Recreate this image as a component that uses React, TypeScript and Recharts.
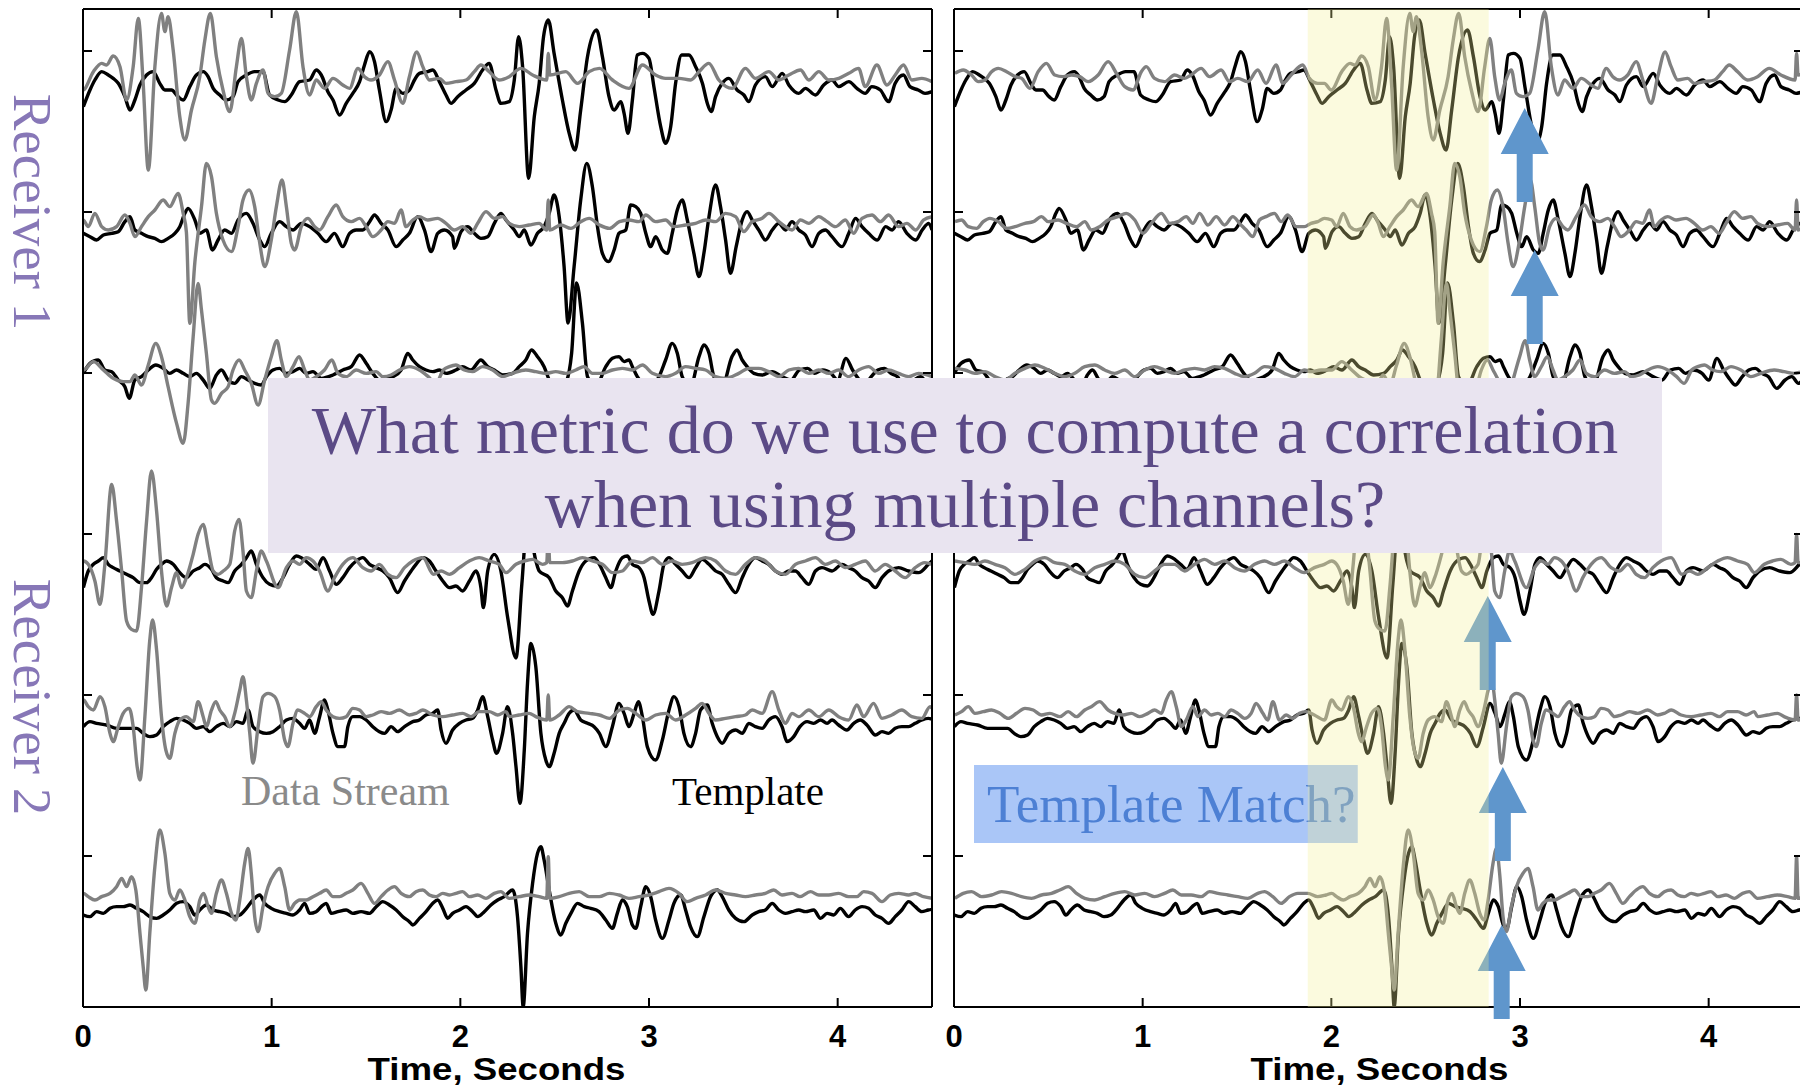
import React from "react";
import { LineChart, Line, XAxis, YAxis, ReferenceArea, ReferenceDot } from "recharts";

type Pair = [number, number];

// Template waveforms, [time s, amplitude counts], receiver 1 (ch 1-3) and receiver 2 (ch 4-6)
const template1: Pair[] = [[0.002,-167],[0.037,-117],[0.063,-87],[0.099,-62],[0.134,-72],[0.16,-82],[0.187,-97],[0.222,-137],[0.249,-177],[0.275,-147],[0.302,-102],[0.337,-72],[0.372,-62],[0.407,-97],[0.434,-117],[0.469,-117],[0.504,-137],[0.531,-147],[0.566,-107],[0.601,-72],[0.637,-62],[0.663,-77],[0.69,-112],[0.725,-132],[0.76,-147],[0.795,-137],[0.822,-92],[0.866,-72],[0.91,-62],[0.954,-62],[0.989,-132],[1.034,-147],[1.069,-152],[1.104,-132],[1.148,-92],[1.201,-87],[1.236,-57],[1.263,-72],[1.298,-122],[1.325,-147],[1.36,-192],[1.395,-157],[1.43,-127],[1.466,-92],[1.492,-42],[1.519,-2],[1.545,-32],[1.571,-117],[1.607,-212],[1.633,-177],[1.66,-112],[1.695,-127],[1.73,-117],[1.757,-87],[1.783,-67],[1.827,-62],[1.854,-57],[1.889,-92],[1.924,-132],[1.951,-157],[1.986,-137],[2.03,-117],[2.074,-97],[2.118,-57],[2.153,-37],[2.189,-117],[2.215,-157],[2.259,-152],[2.286,-87],[2.309,43],[2.33,-47],[2.362,-382],[2.392,-197],[2.418,-97],[2.441,43],[2.466,93],[2.497,-7],[2.541,-147],[2.577,-247],[2.608,-297],[2.638,-177],[2.674,-17],[2.722,63],[2.753,-17],[2.788,-137],[2.815,-177],[2.851,-152],[2.868,-187],[2.889,-247],[2.912,-147],[2.938,-12],[2.965,-7],[3.0,-22],[3.026,-107],[3.062,-227],[3.088,-277],[3.115,-227],[3.141,-97],[3.173,-12],[3.212,-12],[3.247,-47],[3.283,-97],[3.309,-157],[3.33,-182],[3.353,-137],[3.388,-97],[3.423,-82],[3.467,-117],[3.503,-132],[3.529,-152],[3.564,-102],[3.617,-77],[3.653,-107],[3.706,-67],[3.741,-102],[3.794,-127],[3.829,-112],[3.882,-132],[3.926,-102],[3.97,-87],[4.006,-107],[4.059,-92],[4.102,-112],[4.146,-127],[4.181,-107],[4.226,-117],[4.27,-152],[4.305,-97],[4.349,-72],[4.383,-107],[4.427,-117],[4.463,-127],[4.5,-122]];

const template2: Pair[] = [[0.002,-64],[0.037,-74],[0.072,-84],[0.108,-69],[0.152,-64],[0.187,-59],[0.222,-29],[0.249,-14],[0.275,-54],[0.31,-64],[0.346,-74],[0.381,-79],[0.416,-89],[0.451,-79],[0.487,-64],[0.513,-44],[0.54,-4],[0.557,11],[0.593,-24],[0.619,-64],[0.654,-54],[0.686,-114],[0.716,-84],[0.751,-54],[0.787,-64],[0.822,-24],[0.866,-4],[0.901,-34],[0.937,-84],[0.963,-104],[0.998,-64],[1.042,-29],[1.078,-44],[1.113,-54],[1.157,-34],[1.201,-44],[1.245,-64],[1.289,-89],[1.333,-64],[1.377,-104],[1.413,-64],[1.448,-54],[1.483,-54],[1.519,-29],[1.545,-9],[1.58,-34],[1.616,-54],[1.66,-104],[1.695,-84],[1.73,-64],[1.774,-14],[1.81,-54],[1.845,-119],[1.88,-64],[1.915,-54],[1.959,-74],[1.968,-109],[2.004,-59],[2.039,-44],[2.074,-64],[2.109,-79],[2.145,-74],[2.18,-34],[2.215,-4],[2.242,-24],[2.286,-54],[2.312,-74],[2.339,-54],[2.374,-99],[2.409,-64],[2.444,-44],[2.471,-4],[2.497,51],[2.524,-14],[2.55,-164],[2.571,-333],[2.603,-164],[2.638,36],[2.67,146],[2.7,76],[2.727,-44],[2.753,-124],[2.785,-149],[2.815,-114],[2.841,-64],[2.877,-54],[2.903,21],[2.93,16],[2.956,-4],[2.983,-64],[3.009,-104],[3.035,-74],[3.071,-114],[3.097,-124],[3.123,-64],[3.15,6],[3.176,36],[3.203,-24],[3.238,-124],[3.265,-194],[3.291,-124],[3.318,-14],[3.353,81],[3.379,16],[3.406,-84],[3.432,-184],[3.462,-104],[3.494,-24],[3.52,1],[3.547,-24],[3.582,-54],[3.617,-84],[3.653,-54],[3.688,-34],[3.723,-54],[3.758,-29],[3.794,-54],[3.829,-69],[3.864,-104],[3.9,-64],[3.935,-54],[3.97,-74],[4.023,-104],[4.059,-64],[4.095,-19],[4.129,-44],[4.164,-64],[4.21,-84],[4.254,-44],[4.289,-54],[4.323,-29],[4.367,-64],[4.414,-84],[4.448,-54],[4.483,-34],[4.5,-54]];

const template3: Pair[] = [[0.002,-1],[0.037,29],[0.081,39],[0.116,9],[0.152,4],[0.187,-21],[0.222,-41],[0.245,-76],[0.275,-21],[0.31,-11],[0.346,9],[0.386,24],[0.425,14],[0.46,-1],[0.496,9],[0.531,-1],[0.566,-11],[0.601,-1],[0.637,-21],[0.672,-46],[0.707,-6],[0.734,9],[0.769,-21],[0.804,-31],[0.84,-11],[0.875,-21],[0.91,-31],[0.945,-36],[0.972,-11],[1.007,9],[1.042,14],[1.078,-1],[1.113,4],[1.148,14],[1.183,-1],[1.219,4],[1.263,-16],[1.325,-6],[1.377,9],[1.422,19],[1.466,54],[1.501,29],[1.536,-1],[1.571,-21],[1.642,-11],[1.686,9],[1.721,59],[1.748,39],[1.783,19],[1.818,9],[1.854,4],[1.889,9],[1.924,-1],[1.977,9],[2.012,19],[2.056,9],[2.109,39],[2.145,19],[2.18,9],[2.224,-6],[2.277,-1],[2.312,19],[2.347,39],[2.377,69],[2.409,49],[2.444,19],[2.471,-21],[2.515,-60],[2.56,-30],[2.59,60],[2.616,270],[2.647,150],[2.674,-11],[2.718,-40],[2.771,19],[2.806,44],[2.841,49],[2.868,34],[2.894,39],[2.912,19],[2.938,-11],[3.0,-40],[3.053,-11],[3.088,39],[3.123,89],[3.15,59],[3.176,-11],[3.22,-40],[3.265,49],[3.291,84],[3.318,59],[3.344,-11],[3.388,-40],[3.44,49],[3.467,69],[3.494,39],[3.52,19],[3.556,-1],[3.6,-6],[3.653,4],[3.705,-11],[3.753,-21],[3.797,9],[3.841,14],[3.877,-1],[3.921,9],[3.965,-1],[4.0,-21],[4.044,44],[4.079,9],[4.115,-21],[4.141,-36],[4.178,-11],[4.213,9],[4.247,14],[4.282,-1],[4.317,-11],[4.361,-46],[4.405,-21],[4.441,-11],[4.476,-31],[4.5,-20]];

const template4: Pair[] = [[0.002,-161],[0.028,-111],[0.055,-91],[0.081,-81],[0.108,-71],[0.134,-91],[0.16,-101],[0.196,-111],[0.231,-121],[0.266,-131],[0.302,-146],[0.337,-146],[0.363,-131],[0.39,-106],[0.416,-91],[0.443,-81],[0.478,-91],[0.513,-116],[0.548,-131],[0.584,-111],[0.619,-101],[0.646,-91],[0.681,-106],[0.707,-131],[0.743,-141],[0.769,-146],[0.804,-111],[0.84,-91],[0.866,-71],[0.892,-51],[0.919,-91],[0.954,-131],[0.989,-151],[1.025,-156],[1.06,-131],[1.095,-91],[1.131,-66],[1.157,-71],[1.201,-91],[1.236,-106],[1.272,-71],[1.307,-111],[1.342,-151],[1.377,-131],[1.413,-101],[1.448,-81],[1.483,-71],[1.519,-91],[1.554,-101],[1.589,-111],[1.624,-131],[1.668,-176],[1.704,-141],[1.739,-111],[1.765,-91],[1.801,-71],[1.836,-81],[1.871,-111],[1.907,-141],[1.942,-161],[1.977,-156],[2.012,-171],[2.048,-141],[2.083,-111],[2.109,-161],[2.122,-221],[2.145,-111],[2.18,-61],[2.215,-111],[2.251,-251],[2.295,-372],[2.326,-150],[2.356,40],[2.4,-80],[2.418,-111],[2.471,-131],[2.506,-171],[2.541,-191],[2.568,-216],[2.594,-171],[2.63,-111],[2.665,-81],[2.709,-71],[2.737,-91],[2.771,-131],[2.798,-161],[2.824,-111],[2.859,-71],[2.885,-66],[2.912,-91],[2.947,-101],[2.974,-131],[3.0,-201],[3.021,-241],[3.053,-171],[3.079,-91],[3.106,-71],[3.141,-91],[3.176,-111],[3.212,-131],[3.247,-101],[3.282,-76],[3.318,-91],[3.353,-111],[3.388,-121],[3.423,-151],[3.459,-176],[3.494,-131],[3.529,-91],[3.564,-71],[3.6,-81],[3.635,-91],[3.67,-111],[3.705,-121],[3.741,-111],[3.776,-111],[3.811,-131],[3.847,-151],[3.882,-111],[3.917,-101],[3.97,-111],[4.023,-91],[4.058,-101],[4.093,-111],[4.129,-131],[4.164,-141],[4.199,-161],[4.235,-131],[4.27,-111],[4.323,-101],[4.376,-111],[4.429,-116],[4.481,-91],[4.5,-81]];

const template5: Pair[] = [[0.002,-95],[0.037,-80],[0.072,-85],[0.125,-90],[0.178,-100],[0.231,-100],[0.284,-100],[0.319,-115],[0.354,-125],[0.39,-120],[0.425,-95],[0.46,-80],[0.496,-70],[0.531,-75],[0.566,-85],[0.601,-100],[0.637,-95],[0.672,-110],[0.707,-95],[0.743,-85],[0.778,-95],[0.813,-80],[0.848,-85],[0.875,-45],[0.901,-95],[0.937,-110],[0.972,-115],[1.007,-110],[1.042,-95],[1.078,-75],[1.113,-70],[1.148,-85],[1.175,-100],[1.201,-75],[1.228,-115],[1.254,-65],[1.28,-15],[1.298,-45],[1.325,-115],[1.351,-155],[1.386,-155],[1.404,-95],[1.43,-65],[1.466,-65],[1.501,-75],[1.536,-95],[1.571,-110],[1.598,-115],[1.633,-95],[1.668,-110],[1.704,-95],[1.748,-80],[1.783,-75],[1.818,-60],[1.854,-55],[1.88,-45],[1.898,-105],[1.924,-145],[1.959,-105],[1.995,-85],[2.03,-75],[2.065,-70],[2.092,-45],[2.118,-5],[2.145,-65],[2.171,-135],[2.192,-175],[2.224,-115],[2.25,-35],[2.277,-115],[2.295,-215],[2.316,-325],[2.339,-165],[2.356,35],[2.374,155],[2.4,85],[2.427,-115],[2.453,-195],[2.471,-215],[2.497,-175],[2.524,-115],[2.55,-85],[2.577,-55],[2.603,-45],[2.638,-75],[2.674,-85],[2.709,-95],[2.737,-115],[2.771,-155],[2.806,-95],[2.841,-25],[2.868,-55],[2.894,-95],[2.921,-55],[2.944,-20],[2.965,-65],[2.991,-155],[3.035,-195],[3.071,-135],[3.106,-45],[3.132,-5],[3.159,-35],[3.185,-115],[3.22,-155],[3.247,-115],[3.273,-45],[3.309,-30],[3.335,-85],[3.362,-125],[3.388,-145],[3.423,-115],[3.459,-105],[3.494,-115],[3.529,-85],[3.564,-95],[3.6,-100],[3.635,-75],[3.67,-65],[3.705,-95],[3.732,-140],[3.767,-125],[3.8,-95],[3.838,-80],[3.873,-85],[3.909,-75],[3.944,-85],[3.97,-75],[4.005,-90],[4.049,-105],[4.085,-85],[4.12,-75],[4.155,-90],[4.2,-120],[4.235,-110],[4.27,-115],[4.305,-100],[4.34,-95],[4.376,-95],[4.411,-85],[4.446,-75],[4.48,-70],[4.5,-72]];

const template6: Pair[] = [[0.002,-177],[0.037,-182],[0.072,-167],[0.108,-172],[0.143,-157],[0.178,-152],[0.213,-152],[0.249,-147],[0.284,-157],[0.319,-167],[0.354,-182],[0.39,-187],[0.425,-177],[0.46,-162],[0.496,-142],[0.531,-137],[0.566,-152],[0.593,-177],[0.619,-162],[0.654,-147],[0.69,-162],[0.725,-167],[0.76,-172],[0.795,-182],[0.831,-177],[0.866,-157],[0.901,-132],[0.937,-117],[0.963,-142],[0.998,-157],[1.042,-167],[1.078,-172],[1.113,-177],[1.148,-162],[1.175,-142],[1.201,-172],[1.236,-167],[1.263,-152],[1.289,-142],[1.316,-172],[1.351,-167],[1.395,-162],[1.43,-172],[1.474,-167],[1.519,-172],[1.554,-152],[1.589,-137],[1.624,-147],[1.66,-162],[1.695,-182],[1.73,-197],[1.748,-207],[1.783,-187],[1.818,-167],[1.854,-142],[1.88,-132],[1.907,-157],[1.933,-187],[1.959,-172],[1.995,-162],[2.03,-152],[2.065,-167],[2.092,-182],[2.127,-167],[2.162,-147],[2.198,-132],[2.233,-122],[2.277,-102],[2.303,-182],[2.321,-332],[2.333,-452],[2.356,-232],[2.383,-82],[2.409,8],[2.427,28],[2.444,-12],[2.471,-102],[2.506,-202],[2.533,-237],[2.559,-202],[2.586,-172],[2.621,-142],[2.657,-152],[2.691,-157],[2.735,-167],[2.771,-192],[2.806,-217],[2.832,-172],[2.859,-132],[2.885,-152],[2.912,-207],[2.93,-217],[2.956,-152],[2.983,-92],[3.009,-122],[3.035,-192],[3.071,-247],[3.106,-192],[3.132,-142],[3.168,-117],[3.194,-162],[3.22,-212],[3.256,-242],[3.291,-182],[3.326,-122],[3.362,-102],[3.388,-122],[3.423,-162],[3.459,-187],[3.503,-197],[3.547,-177],[3.582,-167],[3.617,-162],[3.653,-142],[3.688,-162],[3.723,-172],[3.758,-167],[3.794,-162],[3.829,-167],[3.873,-162],[3.909,-187],[3.944,-172],[3.979,-177],[4.014,-157],[4.058,-182],[4.093,-162],[4.129,-152],[4.164,-157],[4.199,-177],[4.235,-187],[4.27,-202],[4.305,-182],[4.34,-162],[4.376,-137],[4.411,-152],[4.446,-167],[4.48,-162],[4.5,-160]];

// Continuous data stream per channel, starting 2 s before the left window
const stream1: Pair[] = [[-1.995,-67],[-1.951,-57],[-1.907,-72],[-1.871,-92],[-1.836,-87],[-1.801,-62],[-1.765,-52],[-1.721,-62],[-1.677,-77],[-1.642,-82],[-1.598,-112],[-1.554,-62],[-1.51,-37],[-1.466,-72],[-1.422,-77],[-1.377,-72],[-1.333,-77],[-1.289,-92],[-1.236,-72],[-1.183,-32],[-1.139,-67],[-1.095,-107],[-1.051,-117],[-1.007,-62],[-0.981,-47],[-0.937,-82],[-0.884,-92],[-0.831,-72],[-0.778,-82],[-0.743,-72],[-0.69,-52],[-0.646,-77],[-0.584,-57],[-0.54,-92],[-0.496,-82],[-0.443,-92],[-0.39,-57],[-0.346,-97],[-0.293,-42],[-0.257,-97],[-0.213,-72],[-0.152,-42],[-0.116,-82],[-0.072,-97],[-0.037,-97],[0.0,-117],[0.055,-62],[0.099,-37],[0.125,-42],[0.16,-15],[0.196,-47],[0.231,-147],[0.266,-47],[0.293,98],[0.319,-97],[0.346,-357],[0.381,-47],[0.416,113],[0.434,58],[0.451,103],[0.478,3],[0.513,-197],[0.54,-267],[0.575,-177],[0.619,-77],[0.646,33],[0.675,113],[0.707,-17],[0.742,-117],[0.778,-182],[0.813,-47],[0.84,38],[0.866,-77],[0.892,-147],[0.919,-97],[0.954,-57],[0.981,-127],[1.016,-137],[1.051,-127],[1.095,3],[1.131,118],[1.166,-47],[1.201,-132],[1.236,-87],[1.28,-112],[1.325,-82],[1.377,-102],[1.413,-112],[1.457,-52],[1.492,-77],[1.527,-87],[1.571,-72],[1.616,-32],[1.651,-87],[1.695,-157],[1.73,-77],[1.769,-3],[1.801,-47],[1.836,-87],[1.889,-82],[1.924,-97],[1.977,-92],[2.03,-87],[2.074,-62],[2.109,-42],[2.153,-62],[2.206,-87],[2.259,-77],[2.321,-52],[2.383,-72],[2.458,-87],[2.466,-7],[2.474,-72],[2.559,-62],[2.621,-97],[2.683,-62],[2.737,-52],[2.806,-87],[2.894,-112],[2.965,-42],[3.035,-72],[3.088,-82],[3.159,-82],[3.221,-87],[3.265,-62],[3.317,-37],[3.37,-87],[3.441,-112],[3.511,-52],[3.564,-82],[3.635,-62],[3.688,-87],[3.741,-72],[3.803,-57],[3.847,-87],[3.9,-62],[3.953,-87],[4.006,-82],[4.059,-67],[4.111,-52],[4.146,-107],[4.208,-42],[4.261,-102],[4.305,-72],[4.349,-42],[4.393,-87],[4.446,-82],[4.5,-92]];

const stream2: Pair[] = [[-1.995,-29],[-1.96,-24],[-1.924,-44],[-1.88,-49],[-1.845,-29],[-1.81,-19],[-1.765,-29],[-1.721,-49],[-1.677,-44],[-1.624,-34],[-1.58,-29],[-1.536,-14],[-1.501,-29],[-1.448,-24],[-1.404,-34],[-1.351,-44],[-1.307,-29],[-1.272,-54],[-1.228,-44],[-1.183,-24],[-1.131,-14],[-1.087,-4],[-1.042,-24],[-0.998,-64],[-0.954,-34],[-0.901,-4],[-0.857,-34],[-0.813,-29],[-0.769,-14],[-0.734,-34],[-0.698,-4],[-0.654,-39],[-0.61,-14],[-0.566,-39],[-0.522,-14],[-0.487,-34],[-0.451,-54],[-0.416,-74],[-0.381,-24],[-0.346,-14],[-0.302,-4],[-0.266,-29],[-0.231,-9],[-0.187,-44],[-0.143,-44],[-0.108,-34],[-0.072,-29],[-0.037,-19],[0.002,-24],[0.028,-44],[0.063,-4],[0.099,-44],[0.134,-54],[0.178,-44],[0.222,-9],[0.249,-34],[0.275,-74],[0.31,-44],[0.346,-14],[0.381,6],[0.425,36],[0.46,16],[0.504,56],[0.531,-4],[0.548,-60],[0.566,-334],[0.593,-150],[0.628,16],[0.654,146],[0.681,106],[0.707,-4],[0.742,-84],[0.787,-119],[0.822,-44],[0.848,36],[0.88,66],[0.91,16],[0.937,-94],[0.963,-164],[0.998,-84],[1.025,16],[1.055,96],[1.078,16],[1.104,-94],[1.122,-114],[1.157,-44],[1.192,-19],[1.228,-44],[1.254,-54],[1.298,-14],[1.342,21],[1.377,-14],[1.422,-29],[1.466,-19],[1.501,-44],[1.536,-74],[1.58,-54],[1.616,-29],[1.651,-34],[1.686,6],[1.712,-44],[1.748,-24],[1.783,-14],[1.827,-24],[1.88,-19],[1.924,-34],[1.968,-54],[2.012,-44],[2.056,-64],[2.092,-34],[2.136,1],[2.18,-19],[2.224,-14],[2.259,-34],[2.312,-44],[2.365,-39],[2.418,-34],[2.458,-54],[2.466,36],[2.474,-54],[2.533,-39],[2.586,-49],[2.638,-29],[2.683,-19],[2.737,-39],[2.79,-49],[2.843,-29],[2.894,-24],[2.947,-29],[2.983,-9],[3.035,-29],[3.088,-24],[3.132,-44],[3.194,-39],[3.247,-34],[3.3,-24],[3.353,-29],[3.406,-4],[3.459,-14],[3.503,-59],[3.547,-29],[3.6,-19],[3.635,-4],[3.688,-29],[3.723,-44],[3.758,-54],[3.803,-24],[3.847,-34],[3.9,-14],[3.944,-29],[3.988,-44],[4.041,-24],[4.085,-64],[4.129,-19],[4.182,-9],[4.226,-29],[4.27,-9],[4.323,-44],[4.367,-34],[4.414,-54],[4.455,-24],[4.5,-14]];

const stream3: Pair[] = [[-1.995,14],[-1.942,9],[-1.889,-1],[-1.836,4],[-1.783,-11],[-1.73,-21],[-1.677,-1],[-1.624,14],[-1.571,24],[-1.519,14],[-1.466,-1],[-1.413,-11],[-1.36,-1],[-1.307,19],[-1.254,24],[-1.201,9],[-1.148,-1],[-1.095,9],[-1.042,-11],[-0.989,9],[-0.937,19],[-0.884,9],[-0.831,-1],[-0.778,9],[-0.725,14],[-0.672,9],[-0.619,19],[-0.566,14],[-0.513,-1],[-0.46,-11],[-0.407,-1],[-0.354,19],[-0.302,14],[-0.249,-1],[-0.196,-11],[-0.143,9],[-0.108,4],[-0.055,9],[0.002,9],[0.055,34],[0.108,9],[0.16,-16],[0.213,-26],[0.249,-26],[0.275,-6],[0.31,-36],[0.346,24],[0.386,89],[0.416,49],[0.451,-41],[0.496,-151],[0.531,-211],[0.557,-91],[0.584,109],[0.61,269],[0.628,189],[0.654,59],[0.681,-81],[0.698,-91],[0.734,-61],[0.769,-41],[0.795,9],[0.827,39],[0.857,9],[0.892,-31],[0.928,-96],[0.963,-21],[0.998,49],[1.028,97],[1.051,39],[1.078,-11],[1.113,19],[1.145,49],[1.175,9],[1.201,-21],[1.236,-11],[1.28,9],[1.319,39],[1.351,-1],[1.395,-11],[1.448,9],[1.501,-1],[1.554,4],[1.589,-11],[1.633,-6],[1.677,9],[1.73,19],[1.783,9],[1.83,-11],[1.87,-31],[1.91,9],[1.942,19],[1.977,24],[2.021,9],[2.065,4],[2.118,19],[2.171,9],[2.224,-11],[2.277,-1],[2.347,9],[2.4,4],[2.453,-1],[2.506,4],[2.559,-1],[2.612,9],[2.656,19],[2.7,-1],[2.753,-1],[2.806,9],[2.859,14],[2.912,9],[2.965,24],[3.018,-1],[3.088,-11],[3.141,-1],[3.194,19],[3.247,14],[3.3,9],[3.353,-11],[3.406,-16],[3.476,-1],[3.529,14],[3.582,14],[3.635,4],[3.688,-11],[3.741,9],[3.794,14],[3.847,-1],[3.9,9],[3.953,-1],[4.005,9],[4.058,-11],[4.111,9],[4.164,19],[4.217,-1],[4.27,9],[4.323,-1],[4.376,-11],[4.429,-1],[4.5,-11]];

const stream4: Pair[] = [[-1.995,-81],[-1.942,-86],[-1.889,-91],[-1.836,-81],[-1.783,-91],[-1.73,-101],[-1.677,-121],[-1.624,-106],[-1.571,-81],[-1.519,-71],[-1.466,-86],[-1.413,-91],[-1.36,-111],[-1.307,-121],[-1.254,-101],[-1.201,-91],[-1.148,-81],[-1.095,-91],[-1.042,-121],[-0.989,-131],[-0.937,-111],[-0.884,-91],[-0.831,-91],[-0.778,-111],[-0.725,-91],[-0.672,-76],[-0.619,-91],[-0.566,-81],[-0.513,-101],[-0.46,-111],[-0.407,-91],[-0.354,-81],[-0.302,-91],[-0.249,-81],[-0.196,-101],[-0.143,-116],[-0.09,-101],[-0.037,-91],[0.002,-81],[0.028,-91],[0.063,-141],[0.09,-211],[0.116,-91],[0.152,149],[0.178,39],[0.205,-111],[0.231,-261],[0.257,-286],[0.284,-291],[0.31,-161],[0.337,39],[0.363,189],[0.39,69],[0.416,-111],[0.443,-216],[0.469,-161],[0.496,-116],[0.522,-161],[0.548,-131],[0.584,-61],[0.61,-1],[0.637,29],[0.663,-41],[0.69,-111],[0.716,-121],[0.743,-111],[0.778,-91],[0.804,9],[0.827,44],[0.848,-51],[0.866,-171],[0.892,-191],[0.919,-111],[0.945,-51],[0.972,-81],[1.034,-161],[1.078,-101],[1.113,-81],[1.148,-91],[1.183,-71],[1.219,-81],[1.254,-111],[1.298,-171],[1.333,-131],[1.377,-91],[1.43,-71],[1.483,-101],[1.527,-111],[1.571,-91],[1.616,-121],[1.66,-131],[1.704,-101],[1.748,-81],[1.801,-71],[1.858,-121],[1.898,-111],[1.942,-121],[1.995,-101],[2.048,-81],[2.1,-71],[2.153,-81],[2.206,-91],[2.242,-116],[2.295,-91],[2.339,-81],[2.383,-76],[2.436,-91],[2.458,-86],[2.466,-1],[2.474,-86],[2.541,-86],[2.594,-81],[2.647,-71],[2.7,-81],[2.753,-91],[2.806,-116],[2.859,-111],[2.912,-81],[2.965,-86],[3.018,-71],[3.071,-91],[3.123,-81],[3.176,-91],[3.229,-86],[3.3,-71],[3.353,-81],[3.406,-111],[3.459,-121],[3.511,-91],[3.564,-71],[3.617,-81],[3.67,-111],[3.723,-121],[3.776,-91],[3.829,-81],[3.882,-71],[3.935,-91],[3.988,-81],[4.041,-101],[4.093,-91],[4.146,-81],[4.199,-111],[4.252,-91],[4.305,-111],[4.358,-131],[4.411,-101],[4.462,-86],[4.5,-91]];

const stream5: Pair[] = [[-1.995,-60],[-1.96,-50],[-1.924,-35],[-1.889,-55],[-1.845,-50],[-1.801,-45],[-1.757,-55],[-1.713,-70],[-1.668,-55],[-1.624,-40],[-1.58,-45],[-1.536,-60],[-1.492,-55],[-1.439,-65],[-1.395,-50],[-1.351,-65],[-1.307,-45],[-1.272,-35],[-1.228,-20],[-1.183,-45],[-1.148,-55],[-1.104,-60],[-1.06,-55],[-1.016,-65],[-0.972,-55],[-0.937,-45],[-0.901,-55],[-0.875,-15],[-0.848,10],[-0.822,-35],[-0.795,-95],[-0.769,-75],[-0.734,-35],[-0.707,-65],[-0.672,-45],[-0.637,-60],[-0.601,-55],[-0.566,-65],[-0.531,-45],[-0.496,-55],[-0.46,-70],[-0.425,-55],[-0.399,-25],[-0.363,-55],[-0.337,-75],[-0.31,-20],[-0.275,-75],[-0.24,-60],[-0.205,-70],[-0.169,-55],[-0.134,-50],[-0.09,-60],[-0.037,-75],[0.002,-15],[0.028,-35],[0.055,-45],[0.09,-5],[0.116,-35],[0.143,-115],[0.16,-140],[0.187,-95],[0.213,-55],[0.245,-40],[0.266,-95],[0.287,-215],[0.302,-255],[0.328,-65],[0.354,165],[0.369,225],[0.39,135],[0.416,-65],[0.439,-165],[0.46,-190],[0.487,-115],[0.513,-75],[0.548,-65],[0.584,-80],[0.61,-20],[0.637,-65],[0.654,-95],[0.681,-45],[0.704,-20],[0.725,-45],[0.751,-65],[0.778,-95],[0.804,-55],[0.831,15],[0.848,55],[0.866,-15],[0.884,-115],[0.901,-205],[0.928,-95],[0.954,-5],[0.981,5],[1.016,-5],[1.042,-45],[1.069,-135],[1.086,-155],[1.113,-85],[1.139,-45],[1.175,-55],[1.201,-65],[1.236,-35],[1.263,-20],[1.289,-45],[1.325,-65],[1.36,-70],[1.395,-65],[1.43,-40],[1.466,-45],[1.501,-65],[1.536,-60],[1.58,-50],[1.624,-55],[1.677,-45],[1.73,-60],[1.765,-55],[1.801,-45],[1.854,-60],[1.907,-65],[1.959,-60],[2.012,-55],[2.056,-65],[2.1,-50],[2.153,-50],[2.198,-60],[2.242,-50],[2.259,-65],[2.312,-60],[2.365,-55],[2.4,-65],[2.458,-75],[2.466,0],[2.474,-75],[2.524,-60],[2.577,-35],[2.621,-50],[2.683,-55],[2.737,-60],[2.79,-70],[2.843,-45],[2.885,-40],[2.93,-55],[2.983,-75],[3.035,-60],[3.088,-55],[3.141,-75],[3.194,-60],[3.247,-40],[3.282,-25],[3.318,-55],[3.353,-75],[3.406,-70],[3.459,-65],[3.511,-60],[3.547,-45],[3.6,-55],[3.653,10],[3.688,-45],[3.723,-85],[3.758,-55],[3.794,-65],[3.847,-45],[3.9,-65],[3.953,-45],[4.005,-65],[4.058,-75],[4.102,-30],[4.138,-65],[4.19,-25],[4.235,-70],[4.287,-60],[4.34,-45],[4.393,-65],[4.446,-70],[4.49,-35],[4.5,-40]];

const stream6: Pair[] = [[-1.995,-127],[-1.951,-112],[-1.907,-107],[-1.854,-122],[-1.801,-117],[-1.748,-107],[-1.695,-112],[-1.642,-122],[-1.589,-127],[-1.536,-117],[-1.483,-112],[-1.439,-102],[-1.395,-92],[-1.351,-112],[-1.307,-127],[-1.254,-132],[-1.201,-122],[-1.148,-112],[-1.095,-107],[-1.042,-117],[-0.989,-112],[-0.937,-122],[-0.884,-112],[-0.84,-102],[-0.795,-117],[-0.743,-117],[-0.69,-122],[-0.646,-107],[-0.601,-112],[-0.548,-117],[-0.496,-122],[-0.443,-127],[-0.39,-112],[-0.354,-107],[-0.31,-122],[-0.266,-142],[-0.222,-122],[-0.178,-112],[-0.125,-112],[-0.072,-122],[-0.028,-117],[0.002,-112],[0.028,-122],[0.063,-132],[0.099,-122],[0.143,-112],[0.178,-92],[0.205,-67],[0.231,-92],[0.257,-62],[0.28,-102],[0.302,-232],[0.319,-332],[0.333,-402],[0.354,-232],[0.381,-32],[0.407,78],[0.434,8],[0.46,-112],[0.487,-132],[0.513,-102],[0.54,-132],[0.566,-182],[0.593,-202],[0.619,-132],[0.64,-112],[0.663,-152],[0.681,-172],[0.707,-112],[0.734,-72],[0.76,-112],[0.787,-172],[0.81,-192],[0.831,-132],[0.857,-22],[0.875,23],[0.892,-52],[0.91,-182],[0.928,-227],[0.954,-152],[0.981,-92],[1.016,-52],[1.042,-37],[1.069,-92],[1.095,-162],[1.122,-142],[1.148,-132],[1.183,-132],[1.219,-122],[1.254,-112],[1.289,-102],[1.325,-122],[1.36,-122],[1.395,-112],[1.43,-102],[1.474,-82],[1.51,-112],[1.545,-142],[1.58,-122],[1.616,-102],[1.651,-92],[1.686,-112],[1.73,-122],[1.765,-107],[1.801,-102],[1.836,-117],[1.871,-122],[1.907,-112],[1.942,-117],[1.977,-112],[2.012,-107],[2.048,-122],[2.092,-117],[2.136,-127],[2.18,-112],[2.215,-107],[2.259,-127],[2.312,-122],[2.365,-117],[2.418,-122],[2.458,-127],[2.466,-2],[2.474,-127],[2.524,-122],[2.577,-112],[2.63,-107],[2.683,-122],[2.737,-122],[2.79,-112],[2.841,-117],[2.894,-127],[2.947,-122],[3.0,-117],[3.053,-107],[3.106,-97],[3.159,-112],[3.203,-137],[3.247,-127],[3.3,-117],[3.353,-102],[3.406,-112],[3.459,-117],[3.511,-122],[3.564,-117],[3.617,-112],[3.661,-102],[3.705,-117],[3.758,-112],[3.8,-122],[3.856,-107],[3.9,-117],[3.953,-117],[4.005,-112],[4.058,-122],[4.102,-122],[4.138,-107],[4.182,-112],[4.235,-137],[4.279,-117],[4.323,-112],[4.376,-117],[4.411,-112],[4.455,-122],[4.5,-127]];

const templates = [template1, template2, template3, template4, template5, template6];
const streams = [stream1, stream2, stream3, stream4, stream5, stream6];

const TIME_TICKS = [0, 1, 2, 3, 4];
const CHANNEL_GAP = 483; // vertical spacing between channel baselines, counts
const CHANNEL_TICKS = [0, 1, 2, 3, 4, 5].map((k) => k * CHANNEL_GAP);
const Y_DOMAIN: [number, number] = [-453, 2541];
const T_DOMAIN: [number, number] = [0, 4.5];
const STREAM_LAG = 2.0; // data stream slid by 2 s in the matched panel

// matched window and "Template Match?" note, right panel
const matchWindow: [number, number] = [1.875, 2.834];
const noteBox = { t1: 0.106, t2: 2.14, v1: 39, v2: 273 };

// arrow tips: [time s, channel index, amplitude]
const arrowTips: [number, number, number][] = [
  [3.025, 0, -171],
  [3.078, 1, -114],
  [2.829, 3, -186],
  [2.909, 4, -216],
  [2.903, 5, -207],
];

const offsetOf = (ch: number) => (5 - ch) * CHANNEL_GAP;
const toPoints = (pairs: Pair[], ch: number, lag: number) =>
  pairs.map(([t, a]) => ({ t: Math.round((t + lag) * 1000) / 1000, v: offsetOf(ch) + a }));

const axisStroke = { stroke: "#000", strokeWidth: 2 };
const sans = "Liberation Sans, Arial, sans-serif";
const serif = "Liberation Serif, 'Times New Roman', serif";

// tick marks only, no text
const NoTickText = () => <g />;

function TimeLabel(props: any) {
  const { viewBox, shiftX } = props;
  if (!viewBox) return null;
  const cx = viewBox.x + viewBox.width / 2 + (shiftX || 0);
  return (
    <text
      x={cx}
      y={viewBox.y + 73}
      textAnchor="middle"
      fontFamily={sans}
      fontWeight={700}
      fontSize={32}
      fill="#000"
      textLength={258}
      lengthAdjust="spacingAndGlyphs"
    >
      Time, Seconds
    </text>
  );
}

function ArrowMark(props: any) {
  const { cx, cy } = props;
  const outline = [[0, 0], [24, 46], [8, 46], [8, 94], [-8, 94], [-8, 46], [-24, 46]];
  const pts = outline.map(([dx, dy]) => `${cx + dx},${cy + dy}`).join(" ");
  return <polygon points={pts} fill="#5f96cc" />;
}

function NoteBox(props: any) {
  const { x, y, width, height } = props;
  return (
    <g>
      <rect x={x} y={y} width={width} height={height} fill="#aac6f7" />
      <text x={x + 13} y={y + height - 21} fontFamily={serif} fontSize={53} fill="#4d80d4">
        Template Match?
      </text>
    </g>
  );
}

function Panel({ lag, width, margin, labelShift, annotated }: any) {
  return (
    <LineChart width={width} height={1087} margin={margin}>
      {/* frame with inward ticks on all four sides */}
      <XAxis
        xAxisId="b"
        dataKey="t"
        type="number"
        domain={T_DOMAIN}
        allowDataOverflow
        ticks={TIME_TICKS}
        interval={0}
        mirror
        height={1}
        tickSize={9}
        axisLine={axisStroke}
        tickLine={axisStroke}
        tick={NoTickText}
      />
      <XAxis
        xAxisId="top"
        orientation="top"
        dataKey="t"
        type="number"
        domain={T_DOMAIN}
        allowDataOverflow
        ticks={TIME_TICKS}
        interval={0}
        mirror
        height={1}
        tickSize={9}
        axisLine={axisStroke}
        tickLine={axisStroke}
        tick={NoTickText}
      />
      <YAxis
        yAxisId="l"
        type="number"
        domain={Y_DOMAIN}
        allowDataOverflow
        ticks={CHANNEL_TICKS}
        interval={0}
        mirror
        width={1}
        tickSize={9}
        axisLine={axisStroke}
        tickLine={axisStroke}
        tick={NoTickText}
      />
      <YAxis
        yAxisId="r"
        orientation="right"
        type="number"
        domain={Y_DOMAIN}
        allowDataOverflow
        ticks={CHANNEL_TICKS}
        interval={0}
        mirror
        width={1}
        tickSize={9}
        axisLine={axisStroke}
        tickLine={axisStroke}
        tick={NoTickText}
      />
      {/* tick labels and axis title below the frame */}
      <XAxis
        xAxisId="lbl"
        dataKey="t"
        type="number"
        domain={T_DOMAIN}
        allowDataOverflow
        ticks={TIME_TICKS}
        interval={0}
        height={1}
        tickSize={0}
        tickMargin={18}
        axisLine={false}
        tickLine={false}
        tick={{ fontSize: 31, fontWeight: 700, fill: "#000", fontFamily: sans }}
        label={<TimeLabel shiftX={labelShift} />}
      />
      {templates.map((pairs, ch) => (
        <Line
          key={`tpl-${ch}`}
          xAxisId="b"
          yAxisId="l"
          data={toPoints(pairs, ch, 0)}
          dataKey="v"
          type="monotone"
          stroke="#000"
          strokeWidth={3.4}
          dot={false}
          activeDot={false}
          isAnimationActive={false}
        />
      ))}
      {streams.map((pairs, ch) => (
        <Line
          key={`str-${ch}`}
          xAxisId="b"
          yAxisId="l"
          data={toPoints(pairs, ch, lag)}
          dataKey="v"
          type="monotone"
          stroke="#808080"
          strokeWidth={3.4}
          dot={false}
          activeDot={false}
          isAnimationActive={false}
        />
      ))}
      {annotated && (
        <ReferenceArea
          xAxisId="b"
          yAxisId="l"
          x1={noteBox.t1}
          x2={noteBox.t2}
          y1={noteBox.v1}
          y2={noteBox.v2}
          shape={<NoteBox />}
          zIndex={650}
        />
      )}
      {annotated &&
        arrowTips.map(([t, ch, a], i) => (
          <ReferenceDot
            key={`arrow-${i}`}
            xAxisId="b"
            yAxisId="l"
            x={t}
            y={offsetOf(ch) + a}
            r={0}
            ifOverflow="visible"
            shape={ArrowMark}
            zIndex={680}
          />
        ))}
      {annotated && (
        <ReferenceArea
          xAxisId="b"
          yAxisId="l"
          x1={matchWindow[0]}
          x2={matchWindow[1]}
          fill="#f2f094"
          fillOpacity={0.31}
          stroke="none"
          zIndex={700}
        />
      )}
    </LineChart>
  );
}

export default function App() {
  return (
    <div
      style={{
        position: "fixed",
        left: 0,
        top: 0,
        width: 1800,
        height: 1087,
        background: "#fff",
        overflow: "hidden",
      }}
    >
      <div style={{ position: "absolute", left: 0, top: 0 }}>
        <Panel lag={0} width={945} margin={{ top: 9, right: 13, bottom: 79, left: 83 }} labelShift={-11} />
      </div>
      <div style={{ position: "absolute", left: 940, top: 0 }}>
        <Panel lag={STREAM_LAG} width={880} margin={{ top: 9, right: 17, bottom: 79, left: 14 }} labelShift={1} annotated />
      </div>
      <svg width={1800} height={1087} style={{ position: "absolute", left: 0, top: 0, pointerEvents: "none" }}>
        <text transform="translate(14,212) rotate(90)" textAnchor="middle" fontFamily={serif} fontSize={55} fill="#8777b7">
          Receiver 1
        </text>
        <text transform="translate(14,697) rotate(90)" textAnchor="middle" fontFamily={serif} fontSize={55} fill="#8777b7">
          Receiver 2
        </text>
        <text x={241} y={805} fontFamily={serif} fontSize={42} fill="#8a8a8a">
          Data Stream
        </text>
        <text x={672} y={805} fontFamily={serif} fontSize={41} fill="#000">
          Template
        </text>
        <rect x={268} y={378} width={1394} height={175} fill="#e9e4f0" />
        <text x={965} y={453} textAnchor="middle" fontFamily={serif} fontSize={68} fill="#5b4a86">
          What metric do we use to compute a correlation
        </text>
        <text x={965} y={527} textAnchor="middle" fontFamily={serif} fontSize={68} fill="#5b4a86">
          when using multiple channels?
        </text>
      </svg>
    </div>
  );
}
